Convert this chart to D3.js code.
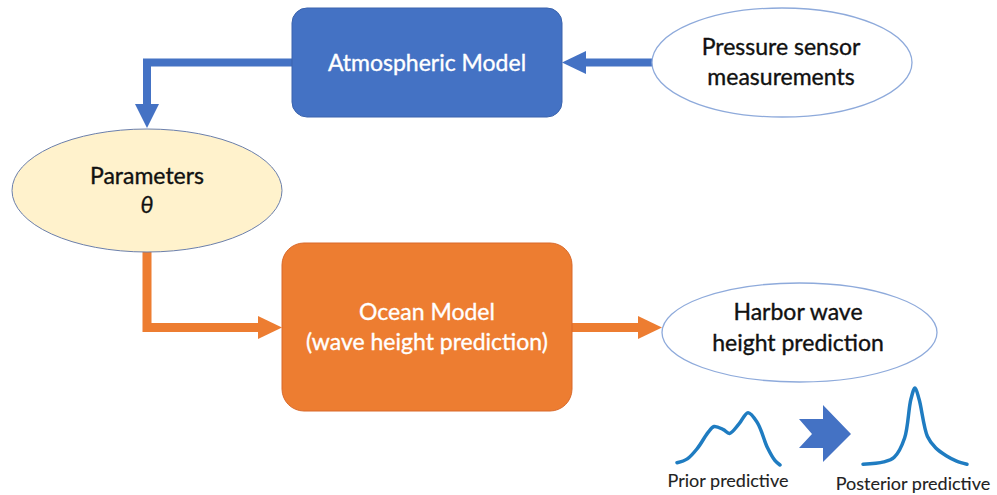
<!DOCTYPE html>
<html>
<head>
<meta charset="utf-8">
<script src="https://cdn.jsdelivr.net/npm/d3@7"></script>
<style>
  body { margin: 0; background: #fff; }
  svg { display: block; }
  text { font-family: Lato, "Open Sans", sans-serif; }
</style>
</head>
<body>
<div id="chart"></div>
<script>
// node labels
const atmLabel = ["Atmospheric Model"];
const sensorLabel = ["Pressure sensor", "measurements"];
const paramLabel = ["Parameters", "θ"];
const oceanLabel = ["Ocean Model", "(wave height prediction)"];
const harborLabel = ["Harbor wave", "height prediction"];
const distLabels = ["Prior predictive", "Posterior predictive"];

// predictive densities (x in 0..10, density relative to posterior peak)
const priorX = [0, 1, 2, 3, 3.6, 4.5, 5.1, 6, 6.9, 7.8, 8.8, 9.5, 10];
const priorY = [0.03, 0.08, 0.22, 0.42, 0.5, 0.46, 0.41, 0.53, 0.68, 0.55, 0.22, 0.06, 0.0];
const postX = [0, 2, 3, 4, 4.6, 5, 5.4, 6.2, 7, 8, 9, 10];
const postY = [0.01, 0.04, 0.1, 0.35, 0.85, 1.0, 0.85, 0.37, 0.22, 0.12, 0.05, 0.01];

const width = 997, height = 495;
const blue = "#4472C4", orange = "#ED7D31", curveBlue = "#1f7cc1";

const svg = d3.select("#chart").append("svg")
    .attr("width", width)
    .attr("height", height);

svg.append("rect").attr("width", width).attr("height", height).attr("fill", "#fff");

// multi-line centered label
function label(lines, cx, y0, lineH, opts) {
    lines.forEach((t, i) => {
        const theta = opts.italic && i === 1;
        svg.append("text")
            .attr("x", cx)
            .attr("y", y0 + i * lineH)
            .attr("text-anchor", "middle")
            .attr("font-size", opts.size)
            .attr("font-style", theta ? "italic" : null)
            .attr("font-family", theta ? "'DejaVu Serif', serif" : null)
            .attr("fill", opts.color)
            .attr("stroke", opts.color)
            .attr("stroke-width", opts.weight || 0.35)
            .text(t);
    });
}

function arrowHead(points, color) {
    svg.append("path")
        .attr("d", d3.line()(points) + "Z")
        .attr("fill", color);
}

// ---- connectors ----
// atmospheric model -> parameters
svg.append("path")
    .attr("d", "M292,62.5H147V105")
    .attr("fill", "none").attr("stroke", blue).attr("stroke-width", 8);
arrowHead([[135, 104], [159, 104], [147, 128]], blue);

// sensor -> atmospheric model
svg.append("path")
    .attr("d", "M652,62.5H584")
    .attr("fill", "none").attr("stroke", blue).attr("stroke-width", 8);
arrowHead([[586, 51], [586, 74], [562, 62.5]], blue);

// parameters -> ocean model
svg.append("path")
    .attr("d", "M147,250V327.5H259")
    .attr("fill", "none").attr("stroke", orange).attr("stroke-width", 9);
arrowHead([[258, 316], [258, 339], [282, 327.5]], orange);

// ocean model -> harbor
svg.append("path")
    .attr("d", "M572,327.5H639")
    .attr("fill", "none").attr("stroke", orange).attr("stroke-width", 9);
arrowHead([[638, 316], [638, 339], [662, 327.5]], orange);

// ---- nodes ----
svg.append("rect")
    .attr("x", 292).attr("y", 8).attr("width", 270).attr("height", 109)
    .attr("rx", 15).attr("fill", blue).attr("stroke", "#3a63ad").attr("stroke-width", 1);
label(atmLabel, 427, 71, 30, { size: 23, color: "#fff" });

svg.append("ellipse")
    .attr("cx", 782).attr("cy", 62.5).attr("rx", 130).attr("ry", 54.5)
    .attr("fill", "#fff").attr("stroke", "#8eaadb").attr("stroke-width", 1.3);
label(sensorLabel, 781, 55, 30, { size: 23, color: "#111" });

svg.append("ellipse")
    .attr("cx", 147).attr("cy", 190.5).attr("rx", 135).attr("ry", 61.5)
    .attr("fill", "#fff2cc").attr("stroke", "#6b7fab").attr("stroke-width", 1);
label(paramLabel, 147, 184, 29, { size: 23, color: "#111", italic: true });

svg.append("rect")
    .attr("x", 282).attr("y", 243).attr("width", 290).attr("height", 168)
    .attr("rx", 22).attr("fill", orange).attr("stroke", "#d9692a").attr("stroke-width", 1);
label(oceanLabel, 427, 320, 30, { size: 23, color: "#fff" });

svg.append("ellipse")
    .attr("cx", 799.5).attr("cy", 332.5).attr("rx", 137.5).attr("ry", 49.5)
    .attr("fill", "#fff").attr("stroke", "#8eaadb").attr("stroke-width", 1.3);
label(harborLabel, 798, 320, 31, { size: 23, color: "#111" });

// ---- predictive distributions ----
const yDens = d3.scaleLinear().domain([0, 1]).range([465, 388]);
const xPrior = d3.scaleLinear().domain([0, 10]).range([677, 780]);
const xPost = d3.scaleLinear().domain([0, 10]).range([863, 967]);

function density(xs, ys, xScale) {
    const line = d3.line()
        .x(d => xScale(d[0]))
        .y(d => yDens(d[1]))
        .curve(d3.curveCatmullRom.alpha(0.5));
    svg.append("path")
        .attr("d", line(d3.zip(xs, ys)))
        .attr("fill", "none")
        .attr("stroke", curveBlue)
        .attr("stroke-width", 3.5)
        .attr("stroke-linecap", "round")
        .attr("stroke-linejoin", "round");
}
density(priorX, priorY, xPrior);
density(postX, postY, xPost);

// notched block arrow between the two densities
arrowHead([[799, 419], [823, 419], [823, 405], [851, 434], [823, 462],
           [823, 448], [799, 448], [812, 434]], blue);

label([distLabels[0]], 728, 487, 0, { size: 18, color: "#222", weight: 0.1 });
label([distLabels[1]], 913, 490, 0, { size: 18, color: "#222", weight: 0.1 });
</script>
</body>
</html>
